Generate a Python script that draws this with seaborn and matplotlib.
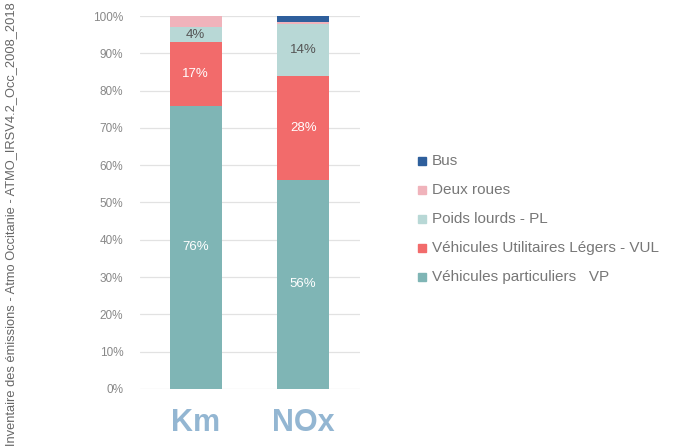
import matplotlib
matplotlib.use("Agg")
import matplotlib.pyplot as plt
import seaborn as sns
import numpy as np

# données (parts en %)
categories = ["Km", "NOx"]
legend_labels = ["Véhicules particuliers   VP", "Véhicules Utilitaires Légers - VUL",
                 "Poids lourds - PL", "Deux roues", "Bus"]
vp = [76, 56]
vul = [17, 28]
pl = [4, 14]
deux_roues = [3, 0.4]
bus = [0, 1.6]
values = [vp, vul, pl, deux_roues, bus]
colors = ["#7fb5b5", "#f26b6b", "#b8d8d6", "#f0b3bb", "#2e5f9c"]
label_colors = ["white", "white", "#555555", None, None]
yticks = [0, 10, 20, 30, 40, 50, 60, 70, 80, 90, 100]

sns.set_style("white")
plt.rcParams["font.family"] = ["Liberation Sans", "DejaVu Sans"]

fig = plt.figure(figsize=(6.73, 4.48), dpi=100)
ax = fig.add_axes([0.208, 0.132, 0.327, 0.832])

bottom = np.zeros(len(categories))
for vals, col, lc in zip(values, colors, label_colors):
    sns.barplot(x=categories, y=vals, bottom=bottom, color=col, width=0.48,
                saturation=1, linewidth=0, ax=ax, zorder=3)
    if lc is not None:
        for i, v in enumerate(vals):
            ax.text(i, bottom[i] + v / 2, f"{v:.0f}%", ha="center", va="center",
                    fontsize=9.5, color=lc, zorder=4)
    bottom = bottom + np.array(vals)

ax.set_ylim(0, 100)
ax.set_xlim(-0.52, 1.53)
ax.set_yticks(yticks)
ax.set_yticklabels([f"{t}%" for t in yticks], fontsize=8.5, color="#888888")
ax.yaxis.grid(True, color="#e2e2e2", linewidth=0.9, zorder=0)
ax.tick_params(axis="y", length=0, pad=12)
ax.tick_params(axis="x", length=0, pad=14)
for lab in ax.get_xticklabels():
    lab.set_fontsize(22)
    lab.set_fontweight("bold")
    lab.set_color("#93b6d2")
sns.despine(ax=ax, left=True, bottom=True)
ax.set_xlabel("")
ax.set_ylabel("")

# légende manuelle (ordre inversé)
for k, idx in enumerate([4, 3, 2, 1, 0]):
    y = 1 - (161 + k * 29) / 448
    fig.patches.append(plt.Rectangle((418 / 673, y - 4 / 448), 8 / 673, 8 / 448,
                                     transform=fig.transFigure, color=colors[idx]))
    fig.text(432 / 673, y, legend_labels[idx], fontsize=11, color="#777777",
             va="center", ha="left")

fig.text(11 / 673, 0.5, "Inventaire des émissions - Atmo Occitanie - ATMO_IRSV4.2_Occ_2008_2018",
         rotation=90, fontsize=9.3, color="#666666", ha="center", va="center")

fig.savefig("out.png", dpi=100)
